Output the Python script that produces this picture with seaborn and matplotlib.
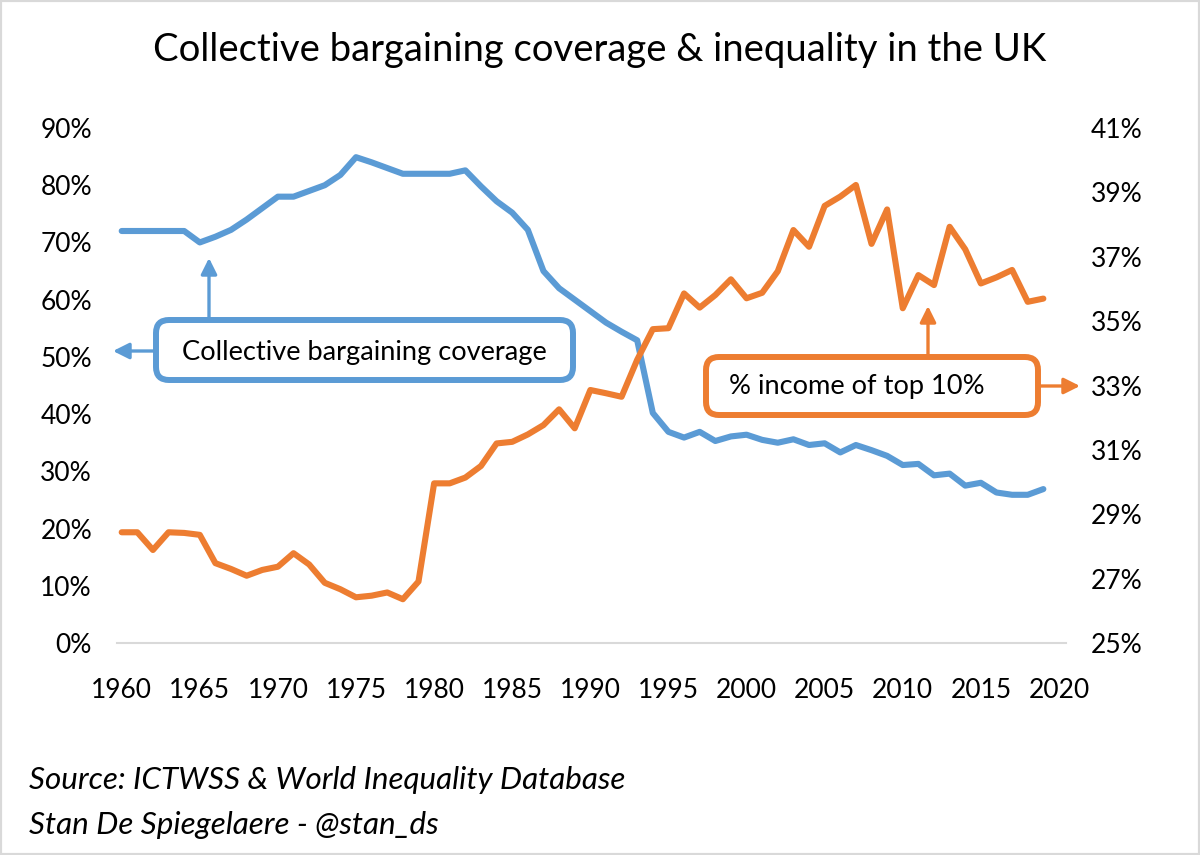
import matplotlib
matplotlib.use("Agg")
import matplotlib.pyplot as plt
import seaborn as sns
from matplotlib.patches import FancyBboxPatch, FancyArrowPatch, Rectangle
from matplotlib.transforms import IdentityTransform
from matplotlib.ticker import FuncFormatter

# --- data --------------------------------------------------------------------
years = list(range(1960, 2020))
coverage = [72, 72, 72, 72, 72, 70, 71, 72.2, 74, 76,
            78, 78, 79, 80, 81.8, 84.9, 84, 83, 82, 82,
            82, 82, 82.6, 79.8, 77.2, 75.2, 72.2, 65, 62, 60,
            58, 56, 54.4, 52.9, 40.2, 36.9, 35.9, 36.9, 35.3, 36.1,
            36.4, 35.5, 35.0, 35.6, 34.6, 34.9, 33.3, 34.6, 33.7, 32.7,
            31.1, 31.3, 29.3, 29.6, 27.5, 28.0, 26.3, 25.9, 25.9, 26.9]
top10 = [28.44, 28.44, 27.89, 28.44, 28.42, 28.36, 27.48, 27.30, 27.09, 27.27,
         27.37, 27.79, 27.44, 26.87, 26.67, 26.42, 26.47, 26.57, 26.36, 26.91,
         29.96, 29.96, 30.14, 30.5, 31.2, 31.25, 31.48, 31.77, 32.26, 31.67,
         32.86, 32.76, 32.65, 33.8, 34.75, 34.78, 35.86, 35.42, 35.81, 36.3,
         35.71, 35.88, 36.55, 37.83, 37.31, 38.58, 38.87, 39.23, 37.4, 38.47,
         35.4, 36.43, 36.12, 37.93, 37.23, 36.17, 36.36, 36.59, 35.6, 35.7]

x_ticks = list(range(1960, 2021, 5))
left_ticks = list(range(0, 91, 10))
right_ticks = list(range(25, 42, 2))

title = "Collective bargaining coverage & inequality in the UK"
label_cov = "Collective bargaining coverage"
label_top = "% income of top 10%"
source = ["Source: ICTWSS & World Inequality Database",
          "Stan De Spiegelaere - @stan_ds"]

BLUE = "#5B9BD5"
ORANGE = "#ED7D31"
W, H = 1200, 855

sns.set_theme(style="white")
plt.rcParams["font.family"] = ["Lato", "DejaVu Sans"]

fig = plt.figure(figsize=(W / 100, H / 100), dpi=100)
ax = fig.add_axes([117 / W, 1 - 643 / H, (1066 - 117) / W, (643 - 128) / H])
ax2 = ax.twinx()

sns.lineplot(x=years, y=coverage, ax=ax, color=BLUE, linewidth=4.4,
             solid_capstyle="round", solid_joinstyle="round")
sns.lineplot(x=years, y=top10, ax=ax2, color=ORANGE, linewidth=4.4,
             solid_capstyle="round", solid_joinstyle="round")

ax.set_xlim(1959.7, 2020.45)
ax.set_ylim(0, 90)
ax2.set_ylim(25, 41)
ax.set_xticks(x_ticks)
ax.set_yticks(left_ticks)
ax2.set_yticks(right_ticks)
pct = FuncFormatter(lambda v, p: f"{v:.0f}%")
ax.yaxis.set_major_formatter(pct)
ax2.yaxis.set_major_formatter(pct)

for a in (ax, ax2):
    for s in ("top", "left", "right", "bottom"):
        a.spines[s].set_visible(False)
    a.grid(False)
    a.tick_params(length=0, labelsize=19, colors="black")
ax.spines["bottom"].set_visible(True)
ax.spines["bottom"].set_color("#d9d9d9")
ax.spines["bottom"].set_linewidth(1.5)
ax.tick_params(axis="y", pad=18)
ax2.tick_params(axis="y", pad=18)
ax.tick_params(axis="x", pad=25)
ax.set_xlabel("")
ax.set_ylabel("")
ax2.set_ylabel("")

fig.text(0.5, 1 - 50 / H, title, ha="center", va="center", fontsize=27.5,
         color="black")
for i, line in enumerate(source):
    fig.text(29 / W, 1 - (780 + 45 * i) / H, line, ha="left", va="center",
             fontsize=22.6, style="italic", color="black")

ident = IdentityTransform()


def box(x0, y0, x1, y1, color):
    fig.add_artist(FancyBboxPatch((x0, H - y1), x1 - x0, y1 - y0,
                                  boxstyle="round,pad=0,rounding_size=13",
                                  transform=ident, facecolor="white",
                                  edgecolor=color, linewidth=4.3, zorder=5))


def arrow(p0, p1, color):
    fig.add_artist(FancyArrowPatch((p0[0], H - p0[1]), (p1[0], H - p1[1]),
                                   transform=ident, arrowstyle="-|>",
                                   mutation_scale=24, color=color,
                                   linewidth=2.4, shrinkA=0, shrinkB=0,
                                   zorder=4))


# coverage label
arrow((209, 318), (209, 258), BLUE)
arrow((155, 351), (113, 351), BLUE)
box(156, 320, 573, 380, BLUE)
fig.text(364 / W, 1 - 352 / H, label_cov, ha="center", va="center",
         fontsize=19.6, zorder=6, color="black")

# top 10% label
arrow((928, 357), (928, 306), ORANGE)
arrow((1038, 386), (1080, 386), ORANGE)
box(706, 357, 1038, 415, ORANGE)
fig.text(857 / W, 1 - 386 / H, label_top, ha="center", va="center",
         fontsize=19.6, zorder=6, color="black")

fig.add_artist(Rectangle((0, 0), 1, 1, transform=fig.transFigure,
                         fill=False, edgecolor="#d9d9d9", linewidth=3))

fig.savefig("out.png", dpi=100)
